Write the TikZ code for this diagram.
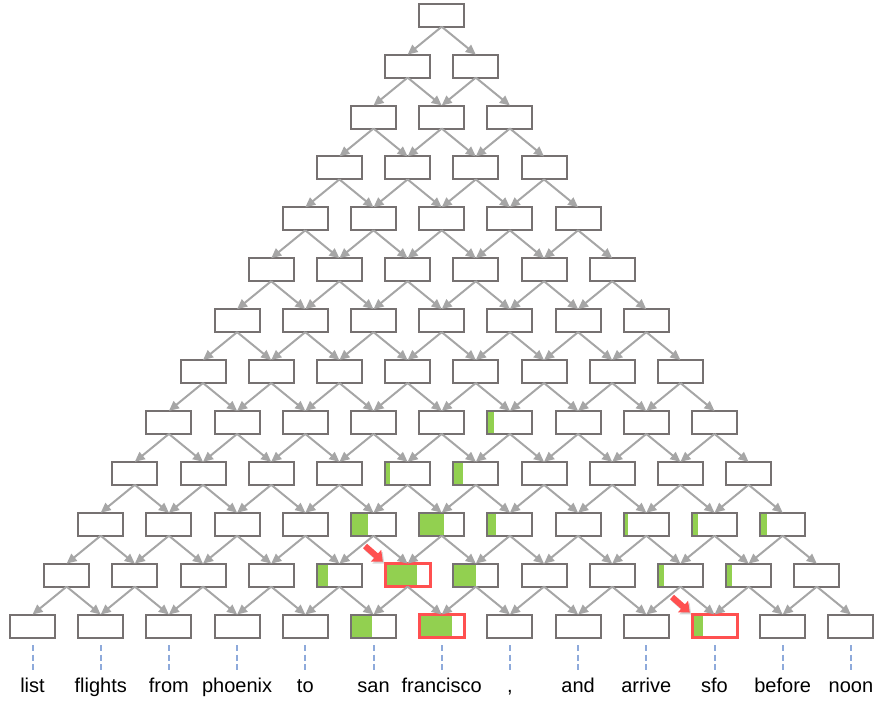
\documentclass[tikz,border=0pt]{standalone}
\usepackage{fontspec}
\setmainfont{Liberation Sans}
\usetikzlibrary{arrows.meta,calc}
\definecolor{boxgray}{HTML}{767171}
\definecolor{arrgray}{HTML}{A6A6A6}
\definecolor{mygreen}{HTML}{92D050}
\definecolor{myred}{HTML}{FF5050}
\definecolor{dashblue}{HTML}{8EAADB}
\begin{document}
\begin{tikzpicture}[x=1pt,y=-1pt,
  cell/.style={draw=boxgray, line width=2pt, fill=white, minimum width=45pt, minimum height=23pt, inner sep=0pt, outer sep=0pt},
  hot/.style={draw=myred, line width=3pt},
  part/.style={path picture={\fill[mygreen] (path picture bounding box.north west) rectangle ([xshift=#1*45pt]path picture bounding box.south west);}},
  link/.style={draw=arrgray, line width=2pt, -{Triangle[length=10pt,width=9pt]}},
  word/.style={font=\fontsize{20}{24}\selectfont, inner sep=0pt, text height=14pt, text depth=4pt, anchor=base},
  guide/.style={draw=dashblue, line width=2pt, dash pattern=on 6pt off 3.5pt},
  pointer/.style={draw=myred, line width=6pt, -{Triangle[length=9pt,width=15pt]}},
  pshadow/.style={draw=black!25, opacity=0.6, line width=6pt, -{Triangle[length=9pt,width=15pt]}},
  s-0-5/.style={part=0.47},
  s-0-6/.style={hot, part=0.72},
  s-0-10/.style={hot, part=0.25},
  s-1-4/.style={part=0.24},
  s-1-5/.style={hot, part=0.70},
  s-1-6/.style={part=0.50},
  s-1-9/.style={part=0.14},
  s-1-10/.style={part=0.14},
  s-2-4/.style={part=0.37},
  s-2-5/.style={part=0.55},
  s-2-6/.style={part=0.20},
  s-2-8/.style={part=0.10},
  s-2-9/.style={part=0.13},
  s-2-10/.style={part=0.15},
  s-3-4/.style={part=0.10},
  s-3-5/.style={part=0.21},
  s-4-5/.style={part=0.15}]
\useasboundingbox (0,0) rectangle (892,704);
% boxes
\foreach \k in {0,...,12}{
  \pgfmathtruncatemacro\n{12-\k}
  \foreach \i in {0,...,\n}{
    \node[cell, s-\k-\i/.try] (b-\k-\i) at ({32.5+68.2*(\i+\k/2)}, {626-50.9*\k}) {};
  }
}
% arrows
\foreach \k in {1,...,12}{
  \pgfmathtruncatemacro\n{12-\k}
  \pgfmathtruncatemacro\km{\k-1}
  \foreach \i in {0,...,\n}{
    \pgfmathtruncatemacro\j{\i+1}
    \draw[link] (b-\k-\i.south) -- (b-\km-\i.north);
    \draw[link] (b-\k-\i.south) -- (b-\km-\j.north);
  }
}
% words
\foreach \w [count=\c from 0] in {list,flights,from,phoenix,to,san,francisco,{,},and,arrive,sfo,before,noon}{
  \node[word] (w-\c) at ({32.5+68.2*\c}, 692) {\w};
  \draw[guide, shorten <=7.5pt, shorten >=8pt] (b-0-\c.south) -- (w-\c.north);
}
% red pointers
\coordinate (p1) at (365,546);
\coordinate (p2) at (672,597);
\draw[pshadow, shorten >=3pt] ([shift={(1.5,2)}]p1) -- ([shift={(1.5,2)}]b-1-5.north west);
\draw[pointer, shorten >=3pt] (p1) -- (b-1-5.north west);
\draw[pshadow, shorten >=3pt] ([shift={(1.5,2)}]p2) -- ([shift={(1.5,2)}]b-0-10.north west);
\draw[pointer, shorten >=3pt] (p2) -- (b-0-10.north west);
\end{tikzpicture}
\end{document}
